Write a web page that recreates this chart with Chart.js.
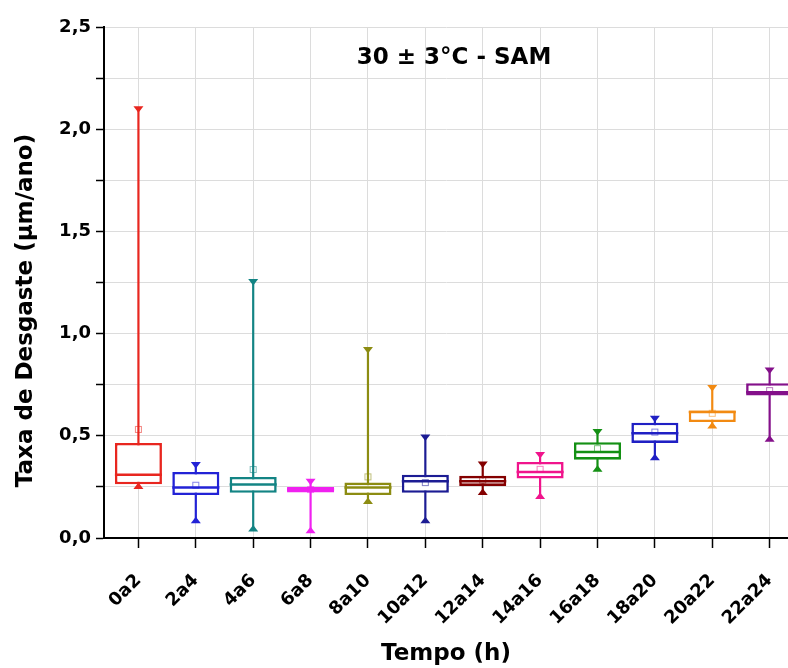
<!DOCTYPE html>
<html>
<head>
<meta charset="utf-8">
<script src="https://cdn.jsdelivr.net/npm/chart.js@4.4.0/dist/chart.umd.min.js"></script>
<style>
  html, body { margin: 0; padding: 0; background: #fff; }
  #wrap { width: 788px; height: 668px; }
</style>
</head>
<body>
<div id="wrap"><canvas id="boxChart" width="788" height="668"></canvas></div>
<script>
// categories and box statistics
var categories = ['0a2', '2a4', '4a6', '6a8', '8a10', '10a12', '12a14', '14a16', '16a18', '18a20', '20a22', '22a24'];
var whiskerMin = [0.247, 0.080, 0.039, 0.031, 0.174, 0.080, 0.218, 0.198, 0.331, 0.388, 0.543, 0.478];
var q1 =         [0.263, 0.210, 0.221, 0.223, 0.210, 0.221, 0.255, 0.291, 0.383, 0.465, 0.567, 0.697];
var median =     [0.310, 0.247, 0.262, 0.237, 0.247, 0.278, 0.278, 0.323, 0.421, 0.513, 0.616, 0.713];
var q3 =         [0.465, 0.323, 0.299, 0.250, 0.271, 0.310, 0.304, 0.372, 0.469, 0.564, 0.624, 0.757];
var whiskerMax = [2.105, 0.364, 1.260, 0.283, 0.927, 0.499, 0.367, 0.413, 0.526, 0.591, 0.741, 0.827];
var mean =       [0.531, 0.258, 0.335, 0.237, 0.299, 0.271, 0.283, 0.336, 0.437, 0.518, 0.610, 0.721];
var colours = ['#e8261f', '#2222d6', '#138484', '#f021f0', '#8c8c12', '#1c1c94', '#840000', '#f0148c', '#149014', '#2020c4', '#f28a12', '#84108a'];

var chartTitle = '30 \u00b1 3\u00b0C - SAM';
var yTitle = 'Taxa de Desgaste (\u03bcm/ano)';
var xTitle = 'Tempo (h)';

Chart.defaults.font.family = '"DejaVu Sans", sans-serif';
Chart.defaults.color = '#000';

var boxData = categories.map(function(c, i) {
  return {x: i + 1, y: [q1[i], q3[i]]};
});

var boxPlugin = {
  id: 'boxParts',
  beforeDatasetsDraw: function(chart) {
    var ctx = chart.ctx, xs = chart.scales.x, ys = chart.scales.y, a = chart.chartArea;
    ctx.save();
    ctx.beginPath();
    ctx.rect(a.left, a.top - 10, a.right - a.left, a.bottom - a.top + 10);
    ctx.clip();
    for (var i = 0; i < categories.length; i++) {
      var x = xs.getPixelForValue(i + 1);
      var yt = ys.getPixelForValue(whiskerMax[i]);
      var yb = ys.getPixelForValue(whiskerMin[i]);
      ctx.strokeStyle = colours[i];
      ctx.fillStyle = colours[i];
      ctx.lineWidth = 2.2;
      ctx.beginPath();
      ctx.moveTo(x, yt);
      ctx.lineTo(x, yb);
      ctx.stroke();
      // caps
      ctx.beginPath();
      ctx.moveTo(x - 5, yt - 1.5);
      ctx.lineTo(x + 5, yt - 1.5);
      ctx.lineTo(x, yt + 5);
      ctx.closePath();
      ctx.fill();
      ctx.beginPath();
      ctx.moveTo(x - 5, yb + 1.5);
      ctx.lineTo(x + 5, yb + 1.5);
      ctx.lineTo(x, yb - 5);
      ctx.closePath();
      ctx.fill();
    }
    ctx.restore();
  },
  afterDatasetsDraw: function(chart) {
    var ctx = chart.ctx, xs = chart.scales.x, ys = chart.scales.y, a = chart.chartArea;
    var bars = chart.getDatasetMeta(0).data;
    ctx.save();
    ctx.beginPath();
    ctx.rect(a.left, a.top, a.right - a.left, a.bottom - a.top);
    ctx.clip();
    for (var i = 0; i < categories.length; i++) {
      var x = xs.getPixelForValue(i + 1);
      var w = bars[i].width;
      var ym = ys.getPixelForValue(median[i]);
      ctx.strokeStyle = colours[i];
      ctx.lineWidth = 2.5;
      ctx.beginPath();
      ctx.moveTo(x - w / 2, ym);
      ctx.lineTo(x + w / 2, ym);
      ctx.stroke();
      var ya = ys.getPixelForValue(mean[i]);
      ctx.globalAlpha = 0.55;
      ctx.lineWidth = 1;
      ctx.strokeRect(x - 3, ya - 3, 6, 6);
      ctx.globalAlpha = 1;
    }
    ctx.restore();
  },
  afterDraw: function(chart) {
    var ctx = chart.ctx, xs = chart.scales.x, area = chart.chartArea;
    ctx.save();
    ctx.fillStyle = '#000';
    ctx.font = 'bold 23px "DejaVu Sans", sans-serif';
    ctx.textAlign = 'center';
    ctx.textBaseline = 'middle';
    ctx.fillText(chartTitle, xs.getPixelForValue(6.5), area.top + 31);
    ctx.translate(26, (area.top + area.bottom) / 2 + 28);
    ctx.rotate(-Math.PI / 2);
    ctx.fillText(yTitle, 0, 0);
    ctx.restore();
  }
};

var myChart = new Chart(document.getElementById('boxChart'), {
  type: 'bar',
  data: {
    datasets: [{
      label: 'Taxa',
      data: boxData,
      backgroundColor: '#ffffff',
      borderColor: colours,
      borderWidth: 2.6,
      borderSkipped: false,
      categoryPercentage: 1,
      barPercentage: 0.82
    }]
  },
  options: {
    responsive: false,
    animation: false,
    layout: { padding: { top: 27, right: 0, left: 0, bottom: 0 } },
    plugins: {
      legend: { display: false },
      tooltip: { enabled: false }
    },
    scales: {
      x: {
        type: 'linear',
        min: 0.4,
        max: 12.32,
        offset: false,
        grid: { offset: false, color: '#dcdcdc', tickColor: '#000', tickLength: 10, tickWidth: 1.5 },
        border: { color: '#000', width: 2 },
        afterBuildTicks: function(scale) {
          scale.ticks = categories.map(function(c, i) { return {value: i + 1}; });
        },
        afterFit: function(scale) {
          scale.height = 130;
          scale.paddingLeft = 0;
          scale.paddingRight = 0;
        },
        ticks: {
          autoSkip: false,
          minRotation: 45,
          maxRotation: 45,
          padding: 22,
          font: { size: 18, weight: 'bold' },
          callback: function(v) { return categories[v - 1]; }
        },
        title: {
          display: true,
          text: xTitle,
          font: { size: 23, weight: 'bold' },
          padding: { top: 0, bottom: 0 }
        }
      },
      y: {
        min: 0,
        max: 2.5,
        grid: { color: '#dcdcdc', tickColor: '#000', tickLength: 8, tickWidth: 1.5 },
        border: { color: '#000', width: 2 },
        afterFit: function(scale) {
          scale.width = 104;
          scale.paddingTop = 0;
          scale.paddingBottom = 0;
        },
        ticks: {
          stepSize: 0.25,
          padding: 5,
          font: { size: 18, weight: 'bold' },
          callback: function(v) {
            if (Math.abs(v * 2 - Math.round(v * 2)) > 1e-6) return '';
            return v.toFixed(1).replace('.', ',');
          }
        }
      }
    }
  },
  plugins: [boxPlugin]
});
</script>
</body>
</html>
